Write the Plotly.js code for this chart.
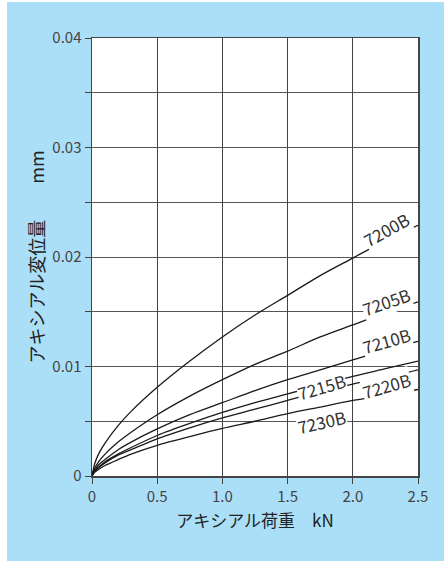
<!DOCTYPE html>
<html>
<head>
<meta charset="utf-8">
<script src="https://cdn.plot.ly/plotly-3.0.1.min.js"></script>
<style>
html,body{margin:0;padding:0;background:#ffffff;}
#bg{position:absolute;left:7px;top:2px;width:437px;height:559px;background:#abdff8;}
#chart{position:absolute;left:0;top:0;width:444px;height:561px;}
</style>
</head>
<body>
<div id="bg"></div>
<div id="chart"></div>
<script>
const load = [0, 0.02, 0.05, 0.1, 0.2, 0.3, 0.5, 0.75, 1.0, 1.25, 1.5, 1.75, 2.0, 2.25, 2.5];

const s7200B = [0, 0.0011, 0.0020, 0.0030, 0.0046, 0.0059, 0.0081, 0.0105, 0.0127, 0.0147, 0.0165, 0.0183, 0.0199, 0.0215, 0.0229];
const s7205B = [0, 0.0007, 0.0013, 0.0020, 0.0031, 0.0040, 0.0056, 0.0073, 0.0088, 0.0102, 0.0114, 0.0127, 0.0138, 0.0149, 0.0159];
const s7210B = [0, 0.0005, 0.0010, 0.0015, 0.0024, 0.0031, 0.0043, 0.0056, 0.0067, 0.0078, 0.0088, 0.0097, 0.0106, 0.0115, 0.0123];
const s7215B = [0, 0.00045, 0.0008, 0.0013, 0.0020, 0.0026, 0.0037, 0.0048, 0.0058, 0.0067, 0.0075, 0.0083, 0.0091, 0.0098, 0.0105];
const s7220B = [0, 0.0004, 0.00075, 0.0012, 0.0019, 0.0024, 0.0034, 0.0044, 0.0053, 0.0061, 0.0069, 0.0077, 0.0084, 0.0090, 0.0097];
const s7230B = [0, 0.00033, 0.0006, 0.00096, 0.0015, 0.0020, 0.0028, 0.0036, 0.00435, 0.0050, 0.0057, 0.0063, 0.0069, 0.0074, 0.0079];

const seriesNames = ["7200B", "7205B", "7210B", "7215B", "7220B", "7230B"];
const seriesValues = [s7200B, s7205B, s7210B, s7215B, s7220B, s7230B];

const labelX = [2.255, 2.255, 2.255, 1.762, 2.255, 1.762];
const labelY = [0.0225, 0.0159, 0.0124, 0.0082, 0.0083, 0.0050];
const labelAngle = [-29, -19, -16, -16, -16, -13];

const xTickVals = [0, 0.5, 1.0, 1.5, 2.0, 2.5];
const xTickText = ["0", "0.5", "1.0", "1.5", "2.0", "2.5"];
const yTickVals = [0, 0.01, 0.02, 0.03, 0.04];
const yTickText = ["0", "0.01", "0.02", "0.03", "0.04"];

const FONT = '"Noto Sans CJK JP", "Noto Sans", sans-serif';

const traces = seriesNames.map((n, i) => ({
  x: load, y: seriesValues[i], name: n, type: 'scatter', mode: 'lines',
  line: {color: '#1a1a1a', width: 1.3, shape: 'spline', smoothing: 0.8},
  hoverinfo: 'skip', showlegend: false
}));

const annotations = seriesNames.map((n, i) => ({
  x: labelX[i], y: labelY[i], xref: 'x', yref: 'y', text: n, showarrow: false,
  textangle: labelAngle[i], bgcolor: '#ffffff', borderpad: 0,
  font: {family: FONT, size: 17, color: '#333333'}
}));

const layout = {
  width: 444, height: 561,
  margin: {l: 92, r: 26, t: 38, b: 85},
  paper_bgcolor: 'rgba(0,0,0,0)',
  plot_bgcolor: '#ffffff',
  font: {family: FONT, color: '#333333'},
  xaxis: {
    range: [0, 2.5], tickvals: xTickVals, ticktext: xTickText,
    ticks: 'outside', ticklen: 6, tickcolor: '#444444', tickwidth: 1,
    showgrid: true, gridcolor: '#444444', gridwidth: 1,
    showline: true, linecolor: '#444444', linewidth: 1.5, mirror: true,
    zeroline: false,
    tickfont: {family: FONT, size: 15, color: '#444444'},
    title: {text: 'アキシアル荷重　kN', font: {family: FONT, size: 17, color: '#222222'}, standoff: 10}
  },
  yaxis: {
    range: [0, 0.04], tickvals: yTickVals, ticktext: yTickText,
    ticks: 'outside', ticklen: 6, tickcolor: '#444444', tickwidth: 1,
    showgrid: true, gridcolor: '#555555', gridwidth: 1,
    minor: {dtick: 0.005, ticks: 'outside', ticklen: 6, tickcolor: '#444444', showgrid: true, gridcolor: '#555555', gridwidth: 1},
    showline: true, linecolor: '#444444', linewidth: 1.5, mirror: true,
    zeroline: false,
    tickfont: {family: FONT, size: 15, color: '#444444'},
    title: {text: 'アキシアル変位量　　mm', font: {family: FONT, size: 18, color: '#222222'}, standoff: 3}
  },
  annotations: annotations
};

Plotly.newPlot('chart', traces, layout, {staticPlot: true, displayModeBar: false});
</script>
</body>
</html>
